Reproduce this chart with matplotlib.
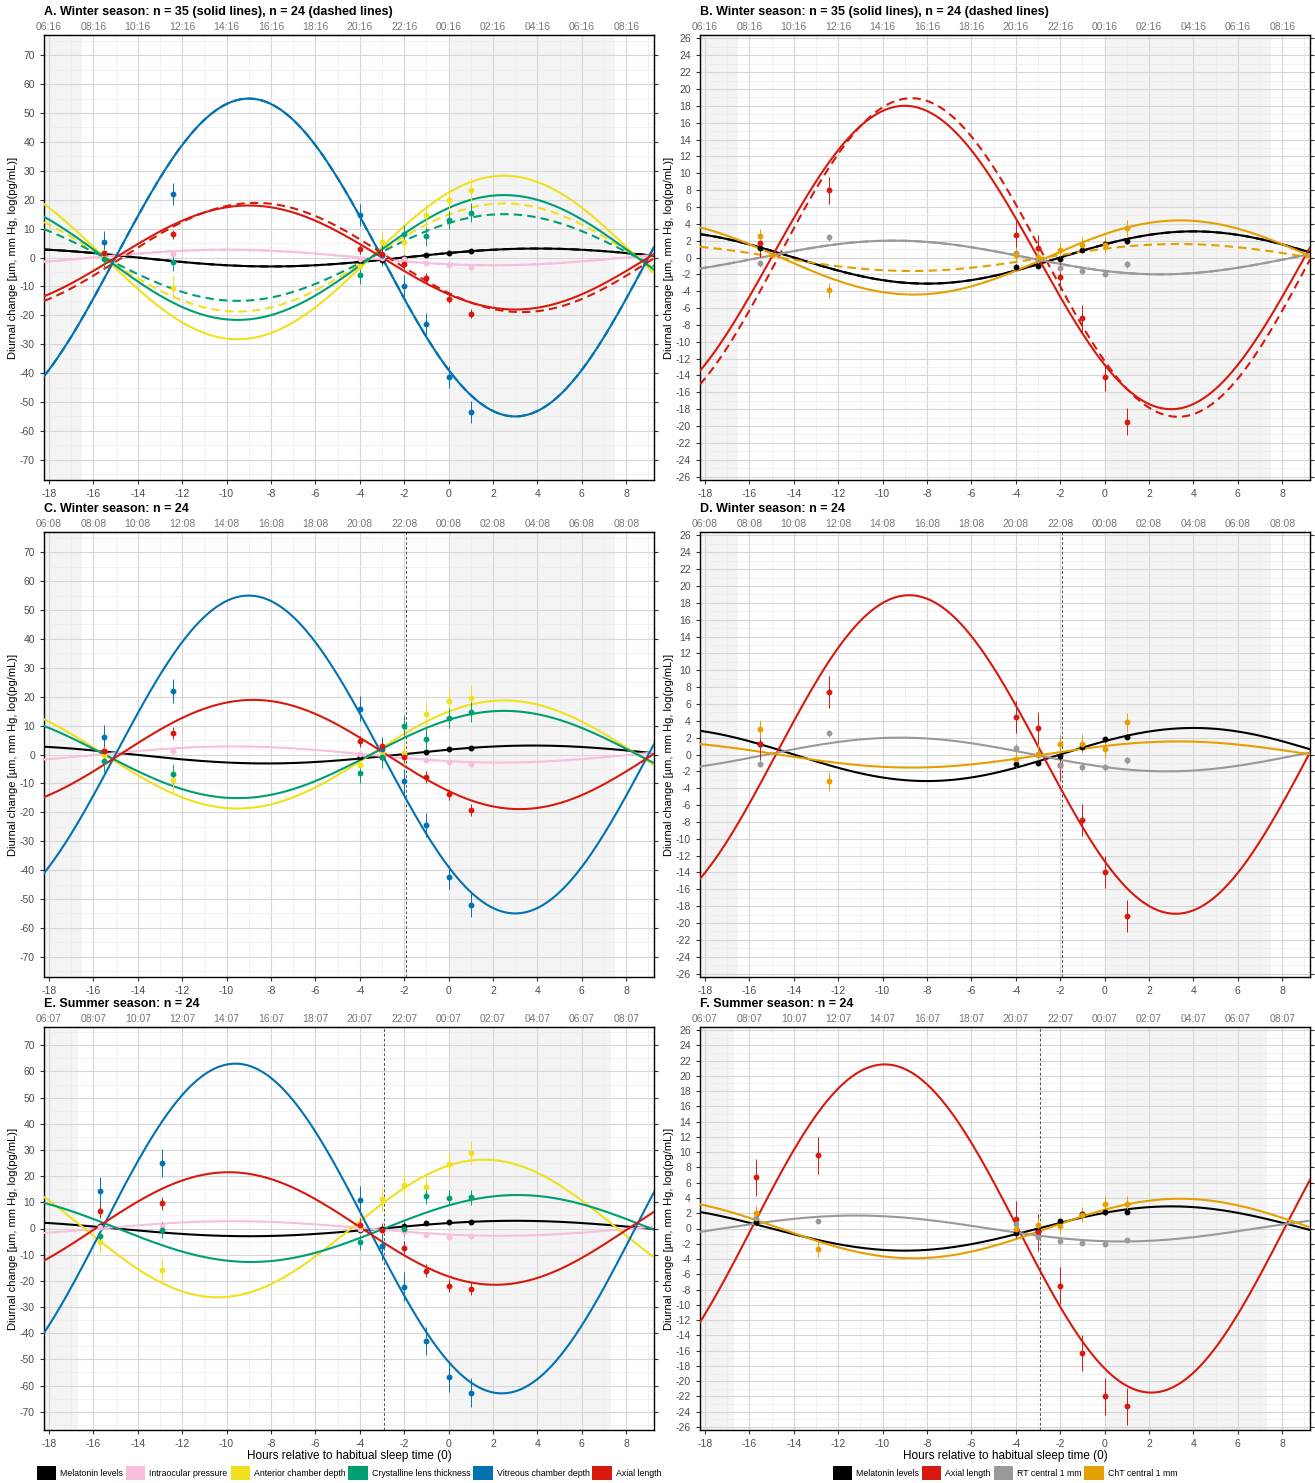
import matplotlib.pyplot as plt
import numpy as np
from matplotlib.patches import Patch
from matplotlib.ticker import MultipleLocator

plt.rcParams['font.family'] = ['Liberation Sans', 'DejaVu Sans']
plt.rcParams['axes.unicode_minus'] = False

# sampling times, hours relative to habitual sleep time (0)
t_winter = [-15.5, -12.4, -4, -3, -2, -1, 0, 1]
t_summer = [-15.7, -12.9, -4, -3, -2, -1, 0, 1]

ocular_names = ['Melatonin levels', 'Intraocular pressure', 'Anterior chamber depth',
                'Crystalline lens thickness', 'Vitreous chamber depth', 'Axial length']
ocular_colors = ['#000000', '#F9BEDD', '#F0E01E', '#009E73', '#0072B2', '#D7190E']
retina_names = ['Melatonin levels', 'Axial length', 'RT central 1 mm', 'ChT central 1 mm']
retina_colors = ['#000000', '#D7190E', '#999999', '#E69F00']

nan = np.nan

# ---- A: winter, ocular biometry (cosinor amplitude / acrophase in h) ----
A_amp = [3.1, 2.7, 28.3, 21.6, 55.0, 18.0]
A_phase = [4.0, -10.0, 2.5, 2.5, -9.0, -9.0]
A_amp_dash = [3.1, 2.7, 18.7, 15.0, 55.0, 18.9]
A_phase_dash = [4.0, -10.0, 2.5, 2.5, -9.0, -8.7]
A_mean = [
    [1.0, nan, -1.1, -1.0, -0.3, 1.0, 1.7, 2.1],
    [2.0, 1.2, -0.5, 0.0, -0.5, -1.8, -2.5, -3.2],
    [0.5, -10.5, -3.0, 5.3, 5.4, 14.6, 20.0, 23.5],
    [-0.5, -1.5, -6.1, 1.0, 8.0, 7.3, 13.0, 15.5],
    [5.5, 22.0, 14.8, 1.0, -9.8, -23.0, -41.5, -53.5],
    [1.5, 8.0, 2.8, 1.3, -2.3, -7.1, -14.2, -19.5],
]
A_se = [0.6, 1.0, 4.0, 3.2, 3.8, 1.6]

# ---- B: winter, retina / choroid ----
B_amp = [3.1, 18.0, 2.0, 4.4]
B_phase = [4.0, -9.0, -9.5, 3.4]
B_amp_dash = [3.1, 18.9, 2.0, 1.6]
B_phase_dash = [4.0, -8.7, -9.5, 3.3]
B_mean = [
    [1.1, nan, -1.1, -1.0, -0.2, 0.9, 1.6, 1.9],
    [1.7, 8.0, 2.7, 1.1, -2.3, -7.2, -14.2, -19.5],
    [-0.7, 2.4, 0.5, -0.2, -1.3, -1.6, -1.9, -0.8],
    [2.5, -3.9, 0.3, 0.1, 0.9, 1.5, 1.5, 3.5],
]
B_se = [0.3, 1.6, 0.4, 0.9]

# ---- C: winter n = 24, ocular biometry ----
C_amp = [3.1, 2.8, 18.7, 15.1, 55.0, 18.9]
C_phase = [3.8, -9.7, 2.5, 2.5, -9.0, -8.8]
C_mean = [
    [1.1, nan, -1.0, -0.9, -0.2, 1.0, 1.9, 2.2],
    [1.7, 1.3, 0.3, 0.0, -1.0, -2.0, -2.7, -3.2],
    [0.0, -8.9, -3.8, 1.0, 0.5, 14.0, 18.4, 19.7],
    [-2.4, -6.8, -6.5, -1.0, 10.0, 5.5, 12.6, 14.8],
    [6.0, 22.0, 15.9, 2.0, -9.3, -24.3, -42.3, -52.0],
    [1.2, 7.4, 4.5, 3.0, -1.0, -7.7, -13.8, -19.2],
]
C_se = [0.6, 1.0, 4.2, 3.5, 4.2, 2.0]

# ---- D: winter n = 24, retina / choroid ----
D_amp = [3.15, 18.9, 2.0, 1.55]
D_phase = [4.0, -8.8, -9.2, 3.3]
D_mean = [
    [1.2, nan, -1.1, -1.0, -0.2, 0.9, 1.8, 2.1],
    [1.2, 7.4, 4.4, 3.1, -1.3, -7.8, -13.9, -19.2],
    [-1.1, 2.5, 0.8, 0.0, -1.3, -1.5, -1.5, -0.7],
    [3.0, -3.2, -0.5, 0.1, 1.2, 1.3, 0.7, 3.8],
]
D_se = [0.3, 1.9, 0.4, 1.1]

# ---- E: summer n = 24, ocular biometry ----
E_amp = [2.95, 2.8, 26.3, 12.8, 63.0, 21.5]
E_phase = [3.0, -9.7, 1.6, 3.1, -9.6, -9.9]
E_mean = [
    [1.0, nan, -0.5, -0.3, 1.1, 2.0, 2.4, 2.4],
    [0.5, 0.8, 0.0, -1.0, -1.3, -2.4, -3.1, -2.9],
    [-5.0, -15.8, 1.0, 11.3, 16.5, 16.0, 24.7, 29.0],
    [-3.0, -0.5, -5.3, -6.5, 0.0, 12.3, 11.8, 11.9],
    [14.2, 25.0, 10.8, -6.5, -22.2, -43.0, -56.8, -62.8],
    [6.7, 9.7, 1.5, -0.5, -7.3, -16.2, -21.8, -23.0],
]
E_se = [0.6, 1.0, 4.5, 3.0, 5.5, 2.5]

# ---- F: summer n = 24, retina / choroid ----
F_amp = [2.9, 21.5, 1.7, 3.9]
F_phase = [3.0, -9.9, -11.2, 3.4]
F_mean = [
    [0.9, nan, -0.6, -0.3, 1.0, 1.9, 2.1, 2.2],
    [6.7, 9.6, 1.2, -0.5, -7.5, -16.3, -22.0, -23.3],
    [1.4, 1.0, 0.6, -1.1, -1.7, -1.9, -2.0, -1.5],
    [2.0, -2.7, 0.0, 0.4, 0.3, 1.8, 3.2, 3.2],
]
F_se = [0.3, 2.4, 0.3, 1.0]

# clock time at habitual sleep onset, and lights-out time
sleep_clock_A = (0, 16)
sleep_clock_C = (0, 8)
sleep_clock_E = (0, 7)
lights_out_C = -1.9
lights_out_E = -2.9

XMIN, XMAX = -18.22, 9.25
bottom_ticks = list(range(-18, 9, 2))


def clock_labels(hm):
    out = []
    for h in bottom_ticks:
        m = (hm[0] * 60 + hm[1] + h * 60) % 1440
        out.append(f'{m // 60:02d}:{m % 60:02d}')
    return out


def panel(ax, title, names, colors, amp, phase, times, means, se, clock,
          sleep_len, big, amp_dash=None, phase_dash=None, vline=None, xlabel=False):
    ax.set_xlim(XMIN, XMAX)
    if big:
        ax.set_ylim(-77, 77)
        ax.yaxis.set_major_locator(MultipleLocator(10))
        ax.yaxis.set_minor_locator(MultipleLocator(5))
    else:
        ax.set_ylim(-26.4, 26.4)
        ax.yaxis.set_major_locator(MultipleLocator(2))
        ax.yaxis.set_minor_locator(MultipleLocator(1))
    ax.set_xticks(bottom_ticks)
    ax.xaxis.set_minor_locator(MultipleLocator(1))
    ax.set_axisbelow(True)
    ax.grid(which='major', color='#d6d6d6', lw=0.8)
    ax.grid(which='minor', color='#ececec', lw=0.5)

    # sleep periods
    ax.axvspan(XMIN, sleep_len - 24, color='#f4f4f4', lw=0, zorder=0.2)
    ax.axvspan(0, sleep_len, color='#f4f4f4', lw=0, zorder=0.2)
    if vline is not None:
        ax.axvline(vline, color='#555555', lw=0.7, ls=(0, (3, 2)), zorder=1)

    x = np.linspace(XMIN, XMAX, 500)
    for i, c in enumerate(colors):
        ax.plot(x, amp[i] * np.cos(2 * np.pi * (x - phase[i]) / 24), color=c, lw=1.5, zorder=3)
        if amp_dash is not None:
            ax.plot(x, amp_dash[i] * np.cos(2 * np.pi * (x - phase_dash[i]) / 24),
                    color=c, lw=1.5, ls=(0, (4, 2.5)), zorder=3)
    for i, c in enumerate(colors):
        ax.errorbar(times, means[i], yerr=se[i], fmt='o', color=c, ms=3.2,
                    elinewidth=0.7, capsize=0, zorder=4)

    ax.tick_params(axis='both', which='major', direction='out', length=3,
                   labelsize=7.5, labelcolor='#4d4d4d', color='#333333')
    ax.tick_params(axis='both', which='minor', length=0)
    ax.tick_params(axis='y', right=True)
    for s in ax.spines.values():
        s.set_linewidth(1.0)
        s.set_color('black')

    top = ax.secondary_xaxis('top')
    top.set_xticks(bottom_ticks, clock_labels(clock))
    top.tick_params(direction='out', length=0, labelsize=7.5, labelcolor='#777777', pad=2)

    ax.set_ylabel('Diurnal change [µm, mm Hg, log(pg/mL)]', fontsize=8, labelpad=1)
    if xlabel:
        ax.set_xlabel('Hours relative to habitual sleep time (0)', fontsize=8.5, labelpad=1)
    ax.annotate(title, xy=(0, 1), xycoords='axes fraction', xytext=(0, 23),
                textcoords='offset pixels', ha='left', va='center',
                fontsize=9, fontweight='bold')


fig = plt.figure(figsize=(13.15, 14.83), dpi=100)
W, H = 1315, 1483
col_left = [44, 700]
col_w = 610
rows = [(35, 480), (532, 977), (1027, 1430)]


def make_ax(col, row):
    t, b = rows[row]
    return fig.add_axes([col_left[col] / W, 1 - b / H, col_w / W, (b - t) / H])


axA = make_ax(0, 0)
panel(axA, 'A. Winter season: n = 35 (solid lines), n = 24 (dashed lines)', ocular_names,
      ocular_colors, A_amp, A_phase, t_winter, A_mean, A_se, sleep_clock_A, 7.5, True,
      A_amp_dash, A_phase_dash)
axB = make_ax(1, 0)
panel(axB, 'B. Winter season: n = 35 (solid lines), n = 24 (dashed lines)', retina_names,
      retina_colors, B_amp, B_phase, t_winter, B_mean, B_se, sleep_clock_A, 7.5, False,
      B_amp_dash, B_phase_dash)
axC = make_ax(0, 1)
panel(axC, 'C. Winter season: n = 24', ocular_names, ocular_colors, C_amp, C_phase,
      t_winter, C_mean, C_se, sleep_clock_C, 7.5, True, vline=lights_out_C)
axD = make_ax(1, 1)
panel(axD, 'D. Winter season: n = 24', retina_names, retina_colors, D_amp, D_phase,
      t_winter, D_mean, D_se, sleep_clock_C, 7.5, False, vline=lights_out_C)
axE = make_ax(0, 2)
panel(axE, 'E. Summer season: n = 24', ocular_names, ocular_colors, E_amp, E_phase,
      t_summer, E_mean, E_se, sleep_clock_E, 7.3, True, vline=lights_out_E, xlabel=True)
axF = make_ax(1, 2)
panel(axF, 'F. Summer season: n = 24', retina_names, retina_colors, F_amp, F_phase,
      t_summer, F_mean, F_se, sleep_clock_E, 7.3, False, vline=lights_out_E, xlabel=True)

for names, colors, cx in [(ocular_names, ocular_colors, (44 + 305) / W),
                          (retina_names, retina_colors, (700 + 305) / W)]:
    handles = [Patch(facecolor=c, edgecolor='none') for c in colors]
    fig.legend(handles, names, loc='center', bbox_to_anchor=(cx, 1 - 1473 / H), ncol=len(names),
               frameon=False, fontsize=6.3, handlelength=2.2, handleheight=2.2,
               handletextpad=0.45, columnspacing=0.35)

fig.savefig('out.png', dpi=100)
